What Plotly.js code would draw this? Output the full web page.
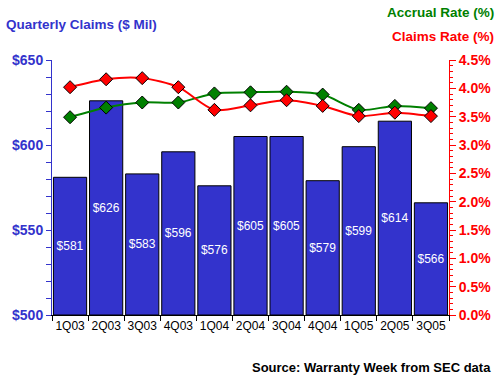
<!DOCTYPE html>
<html><head><meta charset="utf-8">
<script src="https://cdn.plot.ly/plotly-3.0.1.min.js"></script>
<style>html,body{margin:0;padding:0;background:#fff}#c{width:500px;height:380px}</style>
</head><body><div id="c"></div>
<script>
const quarters = ["1Q03","2Q03","3Q03","4Q03","1Q04","2Q04","3Q04","4Q04","1Q05","2Q05","3Q05"];
const claims = [581,626,583,596,576,605,605,579,599,614,566];
const accrualRate = [3.49,3.66,3.75,3.75,3.91,3.93,3.94,3.89,3.62,3.69,3.65];
const claimsRate = [4.02,4.16,4.18,4.02,3.62,3.70,3.79,3.69,3.51,3.57,3.51];
const axisFloor = 500;

const blue = "#3333CC", green = "#008000", red = "#FF0000";
const F = "Arial, 'Liberation Sans', sans-serif";

const traces = [
  {type:"bar", x:quarters, base:axisFloor, y:claims.map(v => v - axisFloor),
   marker:{color:blue, line:{color:"#000", width:1}},
   text:claims.map(v => "$" + v), textposition:"inside", insidetextanchor:"middle",
   insidetextfont:{color:"#fff", size:12, family:F}, textfont:{color:"#fff", size:12, family:F},
   constraintext:"none", hoverinfo:"skip"},
  {type:"scatter", mode:"lines+markers", x:quarters, y:accrualRate, yaxis:"y2",
   line:{color:green, width:2, shape:"spline", smoothing:0.8},
   marker:{symbol:"diamond", size:10, color:green, line:{color:"#000", width:1}}},
  {type:"scatter", mode:"lines+markers", x:quarters, y:claimsRate, yaxis:"y2",
   line:{color:red, width:2, shape:"spline", smoothing:0.8},
   marker:{symbol:"diamond", size:10, color:red, line:{color:"#000", width:1}}}
];

const layout = {
  width:500, height:380, showlegend:false,
  paper_bgcolor:"#fff", plot_bgcolor:"#fff",
  margin:{l:52, r:51, t:60, b:65},
  bargap:0.08,
  font:{family:F},
  xaxis:{type:"category", range:[-0.5,10.5], showline:true, linecolor:"#000", linewidth:1,
    ticks:"outside", tickson:"boundaries", ticklen:5, tickcolor:"#000", tickangle:0,
    tickfont:{size:12, color:"#000", family:F}, showgrid:false, zeroline:false},
  yaxis:{range:[500,650], dtick:50, tickprefix:"$", showline:true, linecolor:blue, linewidth:1,
    ticks:"outside", ticklen:5, tickcolor:blue, showgrid:false, zeroline:false,
    tickfont:{size:14, color:blue, family:F, weight:"bold"},
    minor:{dtick:10, ticks:"outside", ticklen:5, tickcolor:blue}},
  yaxis2:{overlaying:"y", side:"right", range:[0,4.5], dtick:0.5, tickformat:".1f", ticksuffix:"%",
    showline:true, linecolor:red, linewidth:1, ticks:"outside", ticklen:6, tickcolor:red,
    showgrid:false, zeroline:false,
    tickfont:{size:14, color:red, family:F, weight:"bold"},
    minor:{dtick:0.1, ticks:"outside", ticklen:3, tickcolor:red}},
  annotations:[
    {xref:"paper", yref:"paper", x:-0.121, y:1.141, xanchor:"left", yanchor:"middle", showarrow:false,
     text:"Quarterly Claims ($ Mil)", font:{size:13.5, color:blue, family:F, weight:"bold"}},
    {xref:"paper", yref:"paper", x:1.118, y:1.188, xanchor:"right", yanchor:"middle", showarrow:false,
     text:"Accrual Rate (%)", font:{size:13.5, color:green, family:F, weight:"bold"}},
    {xref:"paper", yref:"paper", x:1.118, y:1.094, xanchor:"right", yanchor:"middle", showarrow:false,
     text:"Claims Rate (%)", font:{size:13.5, color:red, family:F, weight:"bold"}},
    {xref:"paper", yref:"paper", x:1.111, y:-0.204, xanchor:"right", yanchor:"middle", showarrow:false,
     text:"Source: Warranty Week from SEC data", font:{size:13, color:"#000", family:F, weight:"bold"}}
  ]
};
Plotly.newPlot("c", traces, layout, {staticPlot:true, displayModeBar:false});
</script></body></html>
